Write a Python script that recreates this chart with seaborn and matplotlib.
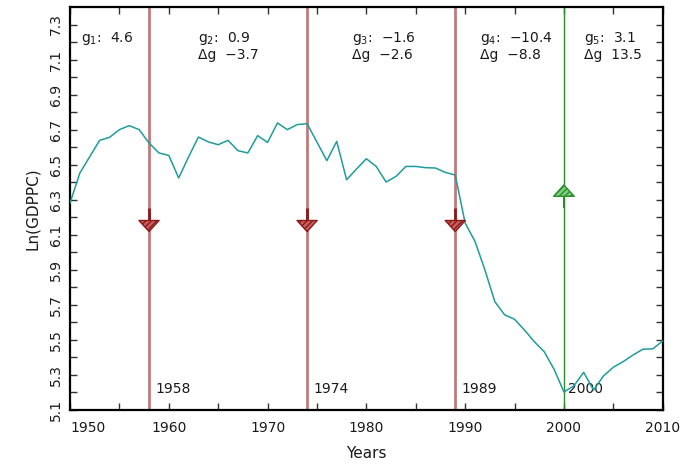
import numpy as np
import pandas as pd
import matplotlib
matplotlib.use("Agg")
import matplotlib.pyplot as plt
from matplotlib.path import Path
from matplotlib.markers import MarkerStyle
from matplotlib.ticker import FixedLocator
import seaborn as sns

# ---------------- data ----------------
years = list(range(1950, 2011))
ln_gdppc = [
    6.281, 6.453, 6.546, 6.639, 6.656, 6.700, 6.723, 6.700, 6.624, 6.567,  # 1950-1959
    6.553, 6.424, 6.544, 6.658, 6.630, 6.614, 6.639, 6.580, 6.567, 6.666,  # 1960-1969
    6.627, 6.738, 6.700, 6.729, 6.734, 6.629, 6.523, 6.633, 6.414, 6.475,  # 1970-1979
    6.534, 6.490, 6.401, 6.433, 6.490, 6.490, 6.483, 6.481, 6.456, 6.441,  # 1980-1989
    6.167, 6.062, 5.900, 5.719, 5.643, 5.618, 5.557, 5.490, 5.433, 5.333,  # 1990-1999
    5.203, 5.237, 5.315, 5.214, 5.294, 5.344, 5.376, 5.414, 5.447, 5.449,  # 2000-2009
    5.494,                                                                 # 2010
]
down_breaks = [1958, 1974, 1989]
up_breaks = [2000]
break_labels = ["1958", "1974", "1989", "2000"]
g_values = ["4.6", "0.9", "\u22121.6", "\u221210.4", "3.1"]
dg_values = [None, "\u22123.7", "\u22122.6", "\u22128.8", "13.5"]
g_text_x = [1951.1, 1963.0, 1978.5, 1991.5, 2002.0]
x_ticks = [1950, 1960, 1970, 1980, 1990, 2000, 2010]

df = pd.DataFrame({"Years": years, "Ln(GDPPC)": ln_gdppc})

# ---------------- style ----------------
sns.set_style("ticks")
plt.rcParams["font.family"] = ["DejaVu Sans"]
plt.rcParams["mathtext.fontset"] = "dejavusans"

fig = plt.figure(figsize=(6.89, 4.66), dpi=100)
ax = fig.add_axes([70 / 689, 56 / 466, (662.7 - 70) / 689, (410 - 7) / 466])

red_line = "#c07a7a"
red_dark = "#8b1a1a"
green = "#2a8f2a"
teal = "#1f9c9c"
txt = "#1a1a1a"

# vertical break lines
for yr in down_breaks:
    ax.axvline(yr, color=red_line, lw=2.0, zorder=1)
for yr in up_breaks:
    ax.axvline(yr, color=green, lw=1.0, zorder=1)

# series
sns.lineplot(data=df, x="Years", y="Ln(GDPPC)", color=teal, lw=1.1, ax=ax, zorder=3)

# arrow markers
tri_down = MarkerStyle(Path([(-1, 0.55), (1, 0.55), (0, -0.55), (-1, 0.55)],
                            [Path.MOVETO, Path.LINETO, Path.LINETO, Path.CLOSEPOLY]))
tri_up = MarkerStyle(Path([(-1, -0.55), (1, -0.55), (0, 0.55), (-1, -0.55)],
                          [Path.MOVETO, Path.LINETO, Path.LINETO, Path.CLOSEPOLY]))

ax.vlines(down_breaks, [6.16] * len(down_breaks), [6.25] * len(down_breaks),
          color=red_dark, lw=2.0, zorder=4)
ax.vlines(up_breaks, [6.32] * len(up_breaks), [6.25] * len(up_breaks),
          color=green, lw=1.5, zorder=4)

with plt.rc_context({"hatch.color": red_dark, "hatch.linewidth": 1.0}):
    sns.scatterplot(x=down_breaks, y=[6.15] * len(down_breaks), marker=tri_down,
                    s=210, color="#c86060", edgecolor=red_dark, linewidth=1.0,
                    hatch="//////", ax=ax, zorder=5)
with plt.rc_context({"hatch.color": green, "hatch.linewidth": 1.0}):
    sns.scatterplot(x=up_breaks, y=[6.352] * len(up_breaks), marker=tri_up,
                    s=220, color="#7fcf7f", edgecolor=green, linewidth=1.0,
                    hatch="//////", ax=ax, zorder=5)

# break year labels
label_x = [1958.6, 1974.6, 1989.6, 2000.45]
for lx, lab in zip(label_x, break_labels):
    ax.text(lx, 5.197, lab, fontsize=10, va="baseline", ha="left", color=txt,
            zorder=2)

# growth annotations
for i, (gx, gv, dv) in enumerate(zip(g_text_x, g_values, dg_values)):
    ax.text(gx, 7.198, "g$_{%d}$:  %s" % (i + 1, gv), fontsize=10, va="baseline",
            ha="left", color=txt)
    if dv is not None:
        ax.text(gx, 7.103, "\u0394g  %s" % dv, fontsize=10, va="baseline",
                ha="left", color=txt)

# axes
ax.set_xlim(1950, 2010)
ax.set_ylim(5.1, 7.4)
ax.xaxis.set_major_locator(FixedLocator(x_ticks))
ax.xaxis.set_minor_locator(FixedLocator([1955, 1965, 1975, 1985, 1995, 2005]))
yt = [round(5.1 + 0.2 * i, 1) for i in range(12)]
ax.yaxis.set_major_locator(FixedLocator(yt))
ax.yaxis.set_minor_locator(FixedLocator([round(v + 0.1, 1) for v in yt[:-1]]))
ax.set_yticklabels(["%.1f" % v for v in yt], rotation=90, va="center")
ax.set_xticklabels([str(v) for v in x_ticks])
ax.get_xticklabels()[0].set_horizontalalignment("left")

ax.tick_params(which="both", direction="in", length=5, width=1.0, color="#333333",
               top=True, right=True, labelsize=10, labelcolor=txt)
ax.tick_params(axis="x", pad=8)
ax.tick_params(axis="y", pad=5)
for sp in ax.spines.values():
    sp.set_visible(True)
    sp.set_linewidth(1.6)
    sp.set_color("black")

ax.set_xlabel("Years", fontsize=11, labelpad=8, color=txt)
ax.set_ylabel("Ln(GDPPC)", fontsize=11, labelpad=6.5, color=txt)

fig.savefig("out.png", dpi=100)
